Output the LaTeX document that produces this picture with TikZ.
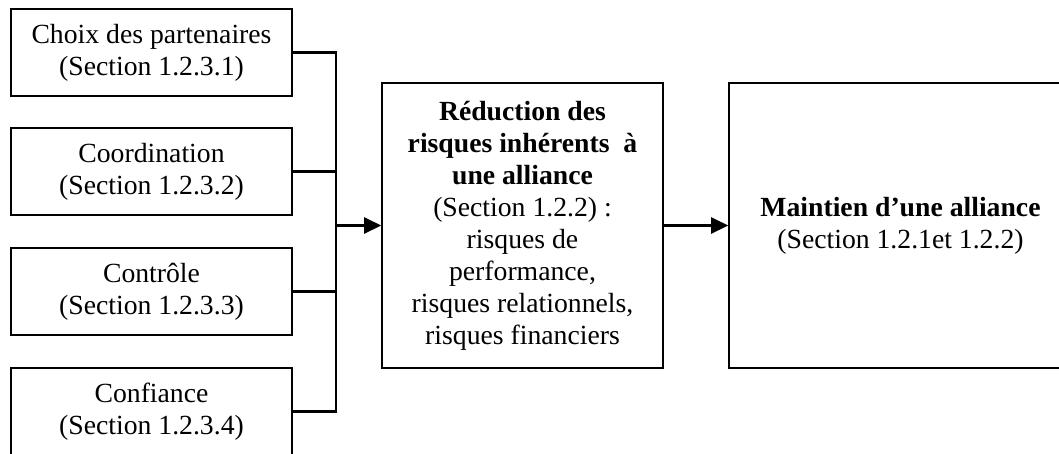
\documentclass[tikz,border=0pt]{standalone}
\usepackage{fontspec}
\setmainfont{Liberation Serif}
\usetikzlibrary{arrows.meta}
\begin{document}
\begin{tikzpicture}[x=1pt,y=-1pt,
  every node/.style={font=\fontsize{27.7}{32}\selectfont, align=center, inner sep=0pt},
  srcbox/.style={draw=black, line width=1.6pt, minimum width=281pt, minimum height=87pt},
  bigbox/.style={draw=black, line width=1.6pt, minimum height=285pt},
  link/.style={line width=2.4pt, line cap=rect},
  flow/.style={line width=2.4pt, -{Triangle[length=17pt,width=16pt]}}]
  \useasboundingbox (0,0) rectangle (1059,453);
  \clip (0,0) rectangle (1059,453);
  \fill[white] (0,0) rectangle (1059,453);

  % four levers on the left
  \node[srcbox] (c1) at (151.5,52.5)  {Choix des partenaires\\(Section 1.2.3.1)};
  \node[srcbox] (c2) at (151.5,171.5) {Coordination\\(Section 1.2.3.2)};
  \node[srcbox] (c3) at (151.5,291.5) {Contrôle\\(Section 1.2.3.3)};
  \node[srcbox] (c4) at (151.5,411.5) {Confiance\\(Section 1.2.3.4)};

  % risk reduction and outcome
  \node[bigbox, minimum width=281pt] (mid) at (522.5,225.5)
    {\textbf{Réduction des}\\\textbf{risques inhérents\ \ à}\\\textbf{une alliance}\\(Section 1.2.2) :\\risques de\\performance,\\risques relationnels,\\risques financiers};
  \node[bigbox, minimum width=343pt] (out) at (900.5,225.5)
    {\textbf{Maintien d’une alliance}\\(Section 1.2.1et 1.2.2)};

  % collecting bus
  \coordinate (bus) at (336,0);
  \draw[link] (c1.east) -- (c1.east -| bus) -- (c4.east -| bus) -- (c4.east);
  \draw[link] (c2.east) -- (c2.east -| bus);
  \draw[link] (c3.east) -- (c3.east -| bus);
  \draw[flow] (bus |- mid.west) -- (mid.west);
  \draw[flow] (mid.east) -- (out.west);
\end{tikzpicture}
\end{document}
